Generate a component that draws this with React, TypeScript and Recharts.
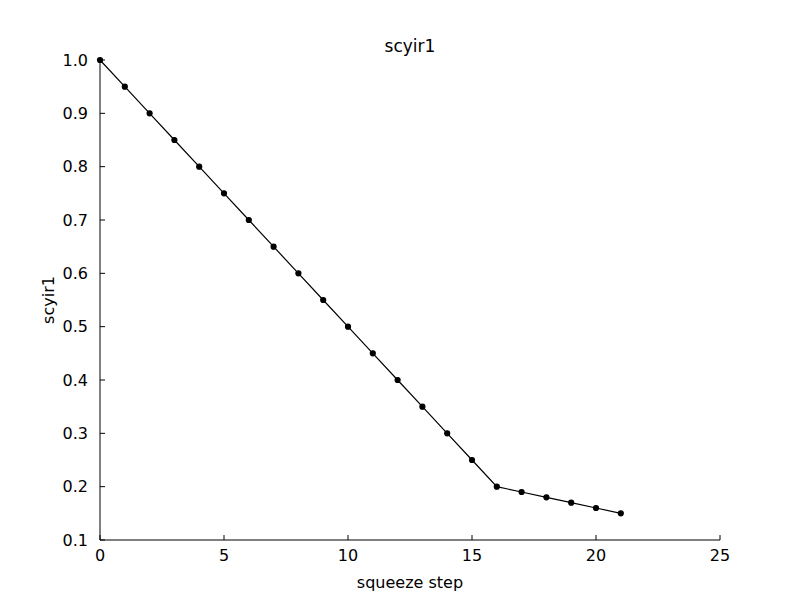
import React from "react";
import { LineChart, Line, XAxis, YAxis, Label } from "recharts";

const steps = [0, 1, 2, 3, 4, 5, 6, 7, 8, 9, 10, 11, 12, 13, 14, 15, 16, 17, 18, 19, 20, 21];
const scyir1 = [1.0, 0.95, 0.9, 0.85, 0.8, 0.75, 0.7, 0.65, 0.6, 0.55, 0.5, 0.45, 0.4, 0.35, 0.3, 0.25, 0.2, 0.19, 0.18, 0.17, 0.16, 0.15];
const xTicks = [0, 5, 10, 15, 20, 25];
const yTicks = [0.1, 0.2, 0.3, 0.4, 0.5, 0.6, 0.7, 0.8, 0.9, 1.0];

const data = steps.map((s, i) => ({ step: s, value: scyir1[i] }));
const font = "DejaVu Sans, sans-serif";
const tickStyle = { fill: "#000", fontSize: 16, fontFamily: font };
const noLabel = () => <g />;

export default function App() {
  return (
    <div style={{ position: "absolute", left: 0, top: 0, width: 800, height: 600, background: "#fff" }}>
      <div style={{ position: "absolute", left: 0, top: 36, width: 820, textAlign: "center", fontFamily: font, fontSize: 17 }}>
        scyir1
      </div>
      <LineChart width={800} height={600} data={data} margin={{ top: 60, right: 80, bottom: 0, left: 40 }}>
        <XAxis dataKey="step" type="number" domain={[0, 25]} ticks={xTicks} height={60}
          stroke="#000" tickLine={false} tick={tickStyle} tickMargin={4}>
          <Label value="squeeze step" position="insideBottom" offset={12} style={{ fill: "#000", fontSize: 16, fontFamily: font }} />
        </XAxis>
        <XAxis xAxisId="bm" dataKey="step" type="number" domain={[0, 25]} ticks={xTicks} mirror
          stroke="#000" tickSize={5} tick={noLabel} axisLine={false} />
        <XAxis xAxisId="top" orientation="top" dataKey="step" type="number" domain={[0, 25]} ticks={xTicks} mirror
          stroke="#000" tickSize={5} tick={noLabel} height={0} />
        <YAxis type="number" domain={[0.1, 1.0]} ticks={yTicks} width={60} stroke="#000" tickLine={false}
          tick={tickStyle} tickMargin={6} tickFormatter={(v: number) => v.toFixed(1)}>
          <Label value="scyir1" angle={-90} position="insideLeft" offset={0} dx={8} style={{ fill: "#000", fontSize: 16, fontFamily: font, textAnchor: "middle" }} />
        </YAxis>
        <YAxis yAxisId="lm" type="number" domain={[0.1, 1.0]} ticks={yTicks} mirror stroke="#000" tickSize={5}
          tick={noLabel} axisLine={false} />
        <YAxis yAxisId="right" orientation="right" type="number" domain={[0.1, 1.0]} ticks={yTicks} mirror
          stroke="#000" tickSize={5} tick={noLabel} width={0} />
        <Line xAxisId="bm" yAxisId="lm" dataKey="value" stroke="none" dot={false} activeDot={false} isAnimationActive={false} />
        <Line xAxisId="top" yAxisId="right" dataKey="value" stroke="none" dot={false} activeDot={false} isAnimationActive={false} />
        <Line dataKey="value" stroke="#000" strokeWidth={1.2} isAnimationActive={false}
          dot={{ r: 2.5, fill: "#000", stroke: "#000" }} />
      </LineChart>
    </div>
  );
}
